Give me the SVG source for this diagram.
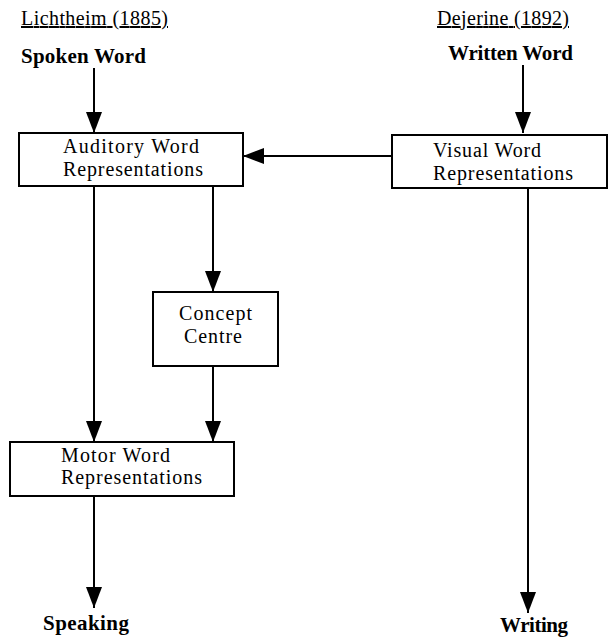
<svg xmlns="http://www.w3.org/2000/svg" width="608" height="637" viewBox="0 0 608 637">
<style>
.t{font-family:"Liberation Serif","DejaVu Serif",serif;font-size:20px;fill:#000}
.b{font-weight:bold;font-size:21px}
.u{text-decoration:underline}
.box{fill:#fff;stroke:#000;stroke-width:2}
.ln{stroke:#000;stroke-width:2;fill:none}
</style>
<defs>
<marker id="ah" markerUnits="userSpaceOnUse" markerWidth="22" markerHeight="16" refX="21" refY="8" orient="auto" viewBox="0 0 22 16">
<path d="M0,0 L21,8 L0,16 z" fill="#000"/>
</marker>
</defs>
<rect width="608" height="637" fill="#fff"/>
<g id="headers">
<text class="t u" x="21" y="25" textLength="147">Lichtheim (1885)</text>
<text class="t u" x="437" y="25" textLength="132">Dejerine (1892)</text>
</g>
<g id="spoken"><text class="t b" x="21" y="63" textLength="125">Spoken Word</text></g>
<g id="written"><text class="t b" x="448" y="60" textLength="125">Written Word</text></g>
<g id="auditory">
<rect class="box" x="19" y="133" width="224" height="53"/>
<text class="t" x="63" y="153" textLength="136">Auditory Word</text>
<text class="t" x="63" y="176" textLength="140">Representations</text>
</g>
<g id="visual">
<rect class="box" x="392" y="135" width="215" height="53"/>
<text class="t" x="433" y="157" textLength="108">Visual Word</text>
<text class="t" x="433" y="180" textLength="140">Representations</text>
</g>
<g id="concept">
<rect class="box" x="153" y="292" width="125" height="74"/>
<text class="t" x="215.5" y="320" text-anchor="middle" textLength="73">Concept</text>
<text class="t" x="213" y="343" text-anchor="middle" textLength="58">Centre</text>
</g>
<g id="motor">
<rect class="box" x="10" y="442" width="224" height="54"/>
<text class="t" x="61" y="462" textLength="109">Motor Word</text>
<text class="t" x="61" y="484" textLength="141">Representations</text>
</g>
<g id="speaking"><text class="t b" x="43" y="630" textLength="86">Speaking</text></g>
<g id="writing"><text class="t b" x="500" y="632" textLength="68">Writing</text></g>
<g id="connectors">
<line class="ln" x1="94" y1="68" x2="94" y2="133" marker-end="url(#ah)"/>
<line class="ln" x1="523" y1="65" x2="523" y2="133" marker-end="url(#ah)"/>
<line class="ln" x1="392" y1="156" x2="243" y2="156" marker-end="url(#ah)"/>
<line class="ln" x1="94" y1="186" x2="94" y2="442" marker-end="url(#ah)"/>
<line class="ln" x1="213" y1="186" x2="213" y2="292" marker-end="url(#ah)"/>
<line class="ln" x1="213" y1="366" x2="213" y2="442" marker-end="url(#ah)"/>
<line class="ln" x1="94" y1="496" x2="94" y2="608" marker-end="url(#ah)"/>
<line class="ln" x1="528" y1="188" x2="528" y2="613" marker-end="url(#ah)"/>
</g>
</svg>
